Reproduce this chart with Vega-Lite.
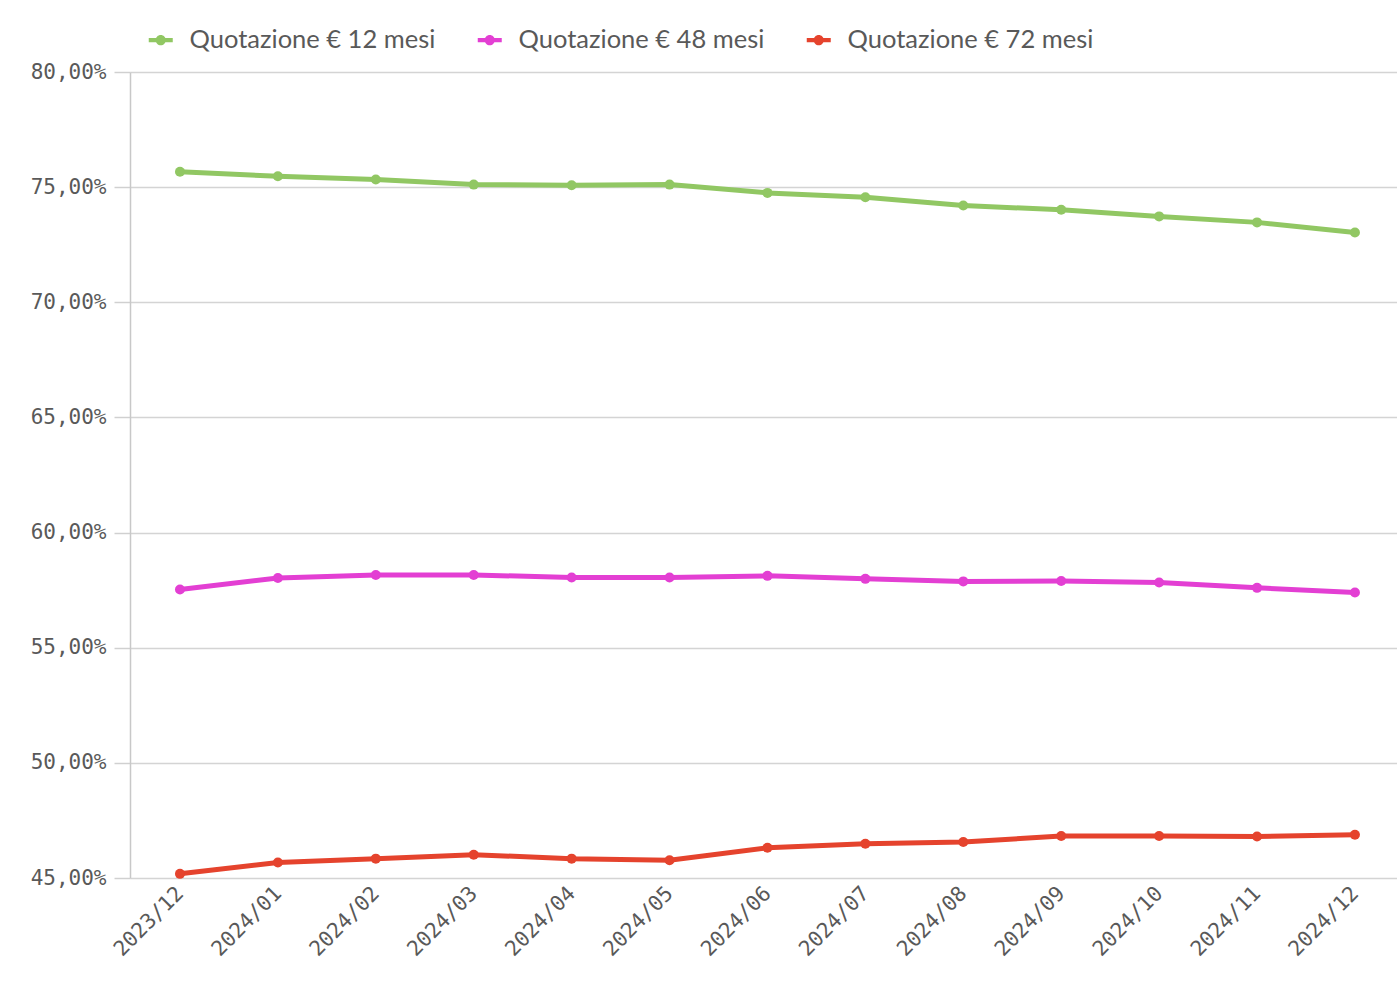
{
  "$schema": "https://vega.github.io/schema/vega-lite/v6.json",
  "autosize": {"type": "none"},
  "width": 1267,
  "height": 806,
  "padding": {"left": 130, "top": 72, "right": 0, "bottom": 118},
  "background": "white",
  "config": {
    "locale": {"number": {"decimal": ",", "thousands": ".", "grouping": [3], "currency": ["€", ""]}},
    "view": {"stroke": null}
  },
  "data": {
    "values": [
      {"mese": "2023/12", "serie": "Quotazione € 12 mesi", "valore": 0.7567},
      {"mese": "2024/01", "serie": "Quotazione € 12 mesi", "valore": 0.7547},
      {"mese": "2024/02", "serie": "Quotazione € 12 mesi", "valore": 0.7533},
      {"mese": "2024/03", "serie": "Quotazione € 12 mesi", "valore": 0.7511},
      {"mese": "2024/04", "serie": "Quotazione € 12 mesi", "valore": 0.7508},
      {"mese": "2024/05", "serie": "Quotazione € 12 mesi", "valore": 0.7511},
      {"mese": "2024/06", "serie": "Quotazione € 12 mesi", "valore": 0.7475},
      {"mese": "2024/07", "serie": "Quotazione € 12 mesi", "valore": 0.7456},
      {"mese": "2024/08", "serie": "Quotazione € 12 mesi", "valore": 0.7420},
      {"mese": "2024/09", "serie": "Quotazione € 12 mesi", "valore": 0.7402},
      {"mese": "2024/10", "serie": "Quotazione € 12 mesi", "valore": 0.7373},
      {"mese": "2024/11", "serie": "Quotazione € 12 mesi", "valore": 0.7347},
      {"mese": "2024/12", "serie": "Quotazione € 12 mesi", "valore": 0.7303},
      {"mese": "2023/12", "serie": "Quotazione € 48 mesi", "valore": 0.5753},
      {"mese": "2024/01", "serie": "Quotazione € 48 mesi", "valore": 0.5803},
      {"mese": "2024/02", "serie": "Quotazione € 48 mesi", "valore": 0.5816},
      {"mese": "2024/03", "serie": "Quotazione € 48 mesi", "valore": 0.5816},
      {"mese": "2024/04", "serie": "Quotazione € 48 mesi", "valore": 0.5805},
      {"mese": "2024/05", "serie": "Quotazione € 48 mesi", "valore": 0.5805},
      {"mese": "2024/06", "serie": "Quotazione € 48 mesi", "valore": 0.5812},
      {"mese": "2024/07", "serie": "Quotazione € 48 mesi", "valore": 0.5799},
      {"mese": "2024/08", "serie": "Quotazione € 48 mesi", "valore": 0.5788},
      {"mese": "2024/09", "serie": "Quotazione € 48 mesi", "valore": 0.5790},
      {"mese": "2024/10", "serie": "Quotazione € 48 mesi", "valore": 0.5783},
      {"mese": "2024/11", "serie": "Quotazione € 48 mesi", "valore": 0.5760},
      {"mese": "2024/12", "serie": "Quotazione € 48 mesi", "valore": 0.5740},
      {"mese": "2023/12", "serie": "Quotazione € 72 mesi", "valore": 0.4518},
      {"mese": "2024/01", "serie": "Quotazione € 72 mesi", "valore": 0.4567},
      {"mese": "2024/02", "serie": "Quotazione € 72 mesi", "valore": 0.4584},
      {"mese": "2024/03", "serie": "Quotazione € 72 mesi", "valore": 0.4601},
      {"mese": "2024/04", "serie": "Quotazione € 72 mesi", "valore": 0.4584},
      {"mese": "2024/05", "serie": "Quotazione € 72 mesi", "valore": 0.4577},
      {"mese": "2024/06", "serie": "Quotazione € 72 mesi", "valore": 0.4631},
      {"mese": "2024/07", "serie": "Quotazione € 72 mesi", "valore": 0.4649},
      {"mese": "2024/08", "serie": "Quotazione € 72 mesi", "valore": 0.4656},
      {"mese": "2024/09", "serie": "Quotazione € 72 mesi", "valore": 0.4682},
      {"mese": "2024/10", "serie": "Quotazione € 72 mesi", "valore": 0.4682},
      {"mese": "2024/11", "serie": "Quotazione € 72 mesi", "valore": 0.4680},
      {"mese": "2024/12", "serie": "Quotazione € 72 mesi", "valore": 0.4688}
    ]
  },
  "encoding": {
    "x": {
      "field": "mese",
      "type": "ordinal",
      "scale": {"type": "point", "padding": 0.47, "align": 0.543},
      "axis": {
        "title": null,
        "domain": false,
        "ticks": false,
        "grid": false,
        "labelAngle": -45,
        "labelAlign": "right",
        "labelBaseline": "middle",
        "labelPadding": 12,
        "labelFont": "DejaVu Sans Mono",
        "labelFontSize": 21,
        "labelColor": "#595959"
      }
    },
    "y": {
      "field": "valore",
      "type": "quantitative",
      "scale": {"domain": [0.45, 0.8], "nice": false, "zero": false},
      "axis": {
        "title": null,
        "format": ".2%",
        "values": [0.45, 0.5, 0.55, 0.6, 0.65, 0.7, 0.75, 0.8],
        "domain": true,
        "domainColor": "#c8c8c8",
        "domainWidth": 1.5,
        "ticks": true,
        "tickSize": 16,
        "tickColor": "#d0d0d0",
        "tickWidth": 1.5,
        "grid": true,
        "gridColor": "#d4d4d4",
        "gridWidth": 1.5,
        "labelPadding": 8,
        "labelFont": "DejaVu Sans Mono",
        "labelFontSize": 21,
        "labelColor": "#595959"
      }
    },
    "color": {
      "field": "serie",
      "type": "nominal",
      "scale": {
        "domain": ["Quotazione € 12 mesi", "Quotazione € 48 mesi", "Quotazione € 72 mesi"],
        "range": ["#91c763", "#e33fd3", "#e5432d"]
      },
      "legend": {
        "title": null,
        "orient": "none",
        "legendX": 18,
        "legendY": -45,
        "direction": "horizontal",
        "symbolType": "M-1,-0.17H1V0.17H-1Z M-0.42,0A0.42,0.42 0 1,1 0.42,0A0.42,0.42 0 1,1 -0.42,0Z",
        "symbolSize": 576,
        "symbolStrokeWidth": 0,
        "labelFont": "Lato",
        "labelFontSize": 25.5,
        "labelColor": "#595959",
        "labelOffset": 16,
        "labelLimit": 400,
        "columnPadding": 41,
        "encode": {
          "symbols": {
            "update": {
              "fill": {"scale": "color", "field": "value"},
              "stroke": {"value": "transparent"},
              "opacity": {"value": 1}
            }
          }
        }
      }
    }
  },
  "layer": [
    {"mark": {"type": "line", "strokeWidth": 5}},
    {"mark": {"type": "point", "filled": true, "size": 100, "opacity": 1}}
  ]
}
